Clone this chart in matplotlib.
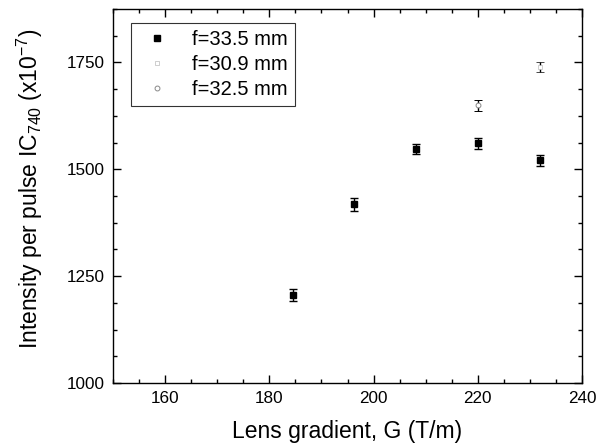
import matplotlib.pyplot as plt
from matplotlib.lines import Line2D
from matplotlib.ticker import MultipleLocator

plt.rcParams['font.family'] = ['Liberation Sans', 'DejaVu Sans']
plt.rcParams['mathtext.fontset'] = 'custom'
plt.rcParams['mathtext.rm'] = 'Liberation Sans'
plt.rcParams['mathtext.it'] = 'Liberation Sans'

# f = 33.5 mm
g_a = [184.5, 196.3, 208.2, 220.0, 232.0]
i_a = [1205, 1418, 1547, 1561, 1521]
e_a = [14, 15, 12, 13, 13]

# f = 30.9 mm
g_b = [232.0]
i_b = [1740]
e_b = [12]

# f = 32.5 mm
g_c = [220.0]
i_c = [1650]
e_c = [13]

fig = plt.figure(figsize=(6.0, 4.48), dpi=100)
ax = fig.add_axes([113 / 600, 1 - 383 / 448, 469 / 600, 374 / 448])

bar_kw = dict(ecolor='black', elinewidth=1.0, capsize=2.8, capthick=1.0)
ax.errorbar(g_a, i_a, yerr=e_a, fmt='s', color='black', ms=4.2, **bar_kw)
ax.errorbar(g_b, i_b, yerr=e_b, fmt='s', color='#bbbbbb', mfc='white',
            ms=2.5, mew=0.5, **bar_kw)
ax.errorbar(g_c, i_c, yerr=e_c, fmt='o', color='#888888', mfc='white',
            ms=3.5, mew=0.7, **bar_kw)

ax.set_xlim(150, 240)
ax.set_ylim(1000, 1875)
ax.xaxis.set_major_locator(MultipleLocator(20))
ax.xaxis.set_minor_locator(MultipleLocator(5))
ax.yaxis.set_major_locator(MultipleLocator(250))
ax.yaxis.set_minor_locator(MultipleLocator(62.5))

ax.tick_params(which='both', direction='in', top=True, right=True,
               labelsize=12.3, width=1.0, pad=6)
ax.tick_params(which='major', length=5.5)
ax.tick_params(which='minor', length=3)
for side in ax.spines.values():
    side.set_linewidth(1.0)

ax.set_xlabel('Lens gradient, G (T/m)', fontsize=16.5)
ax.xaxis.set_label_coords(0.5, -0.131)
ax.xaxis.label.set_verticalalignment('center')
ax.set_ylabel('Intensity per pulse IC$_{740}$ (x10$^{-7}$)', fontsize=16.5)
ax.yaxis.set_label_coords(-0.177, 0.52)
ax.yaxis.label.set_verticalalignment('center')

# legend shows only the markers, no error bars
handles = [
    Line2D([], [], ls='none', marker='s', color='black', ms=4.2),
    Line2D([], [], ls='none', marker='s', color='#bbbbbb', mfc='white',
           ms=2.5, mew=0.5),
    Line2D([], [], ls='none', marker='o', color='#888888', mfc='white',
           ms=3.5, mew=0.7),
]
labels = ['f=33.5 mm', 'f=30.9 mm', 'f=32.5 mm']
leg = ax.legend(handles, labels, loc='upper left',
                bbox_to_anchor=(0.038, 0.963), borderaxespad=0,
                fontsize=14.5, frameon=True, fancybox=False,
                edgecolor='black', handletextpad=0.8, borderpad=0.35,
                labelspacing=0.3, handlelength=1.9, numpoints=1)
leg.get_frame().set_linewidth(0.8)

fig.savefig('out.png', dpi=100)
